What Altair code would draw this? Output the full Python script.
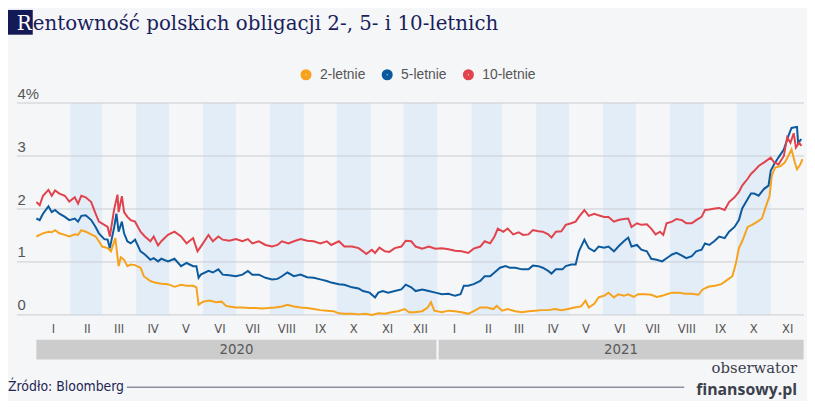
import altair as alt
import pandas as pd

# ---------------- texts ----------------
TITLE_FIRST = "R"
TITLE_REST = "entowność polskich obligacji 2-, 5- i 10-letnich"
SOURCE = "Źródło: Bloomberg"
LOGO_TOP = "obserwator"
LOGO_BOTTOM = "finansowy.pl"

# ---------------- categories / styling lists ----------------
SERIES = ["2-letnie", "5-letnie", "10-letnie"]
COLORS = ["#f6a21d", "#0c5a9e", "#e1434c"]
Y_TICKS = [0, 1, 2, 3, 4]
ROMAN = ["I", "II", "III", "IV", "V", "VI", "VII", "VIII", "IX", "X", "XI", "XII"]
TICK_MONTHS = [(2020, m) for m in range(1, 13)] + [(2021, m) for m in range(1, 12)]
BAND_MONTHS = ["2020-02", "2020-04", "2020-06", "2020-08", "2020-10", "2020-12",
               "2021-02", "2021-04", "2021-06", "2021-08", "2021-10"]
YEARS = ["2020", "2021"]
YEAR_START = ["2020-01-01", "2021-01-02"]
YEAR_END = ["2020-12-31", "2021-12-01"]

NARROW = "DejaVu Sans Condensed, Roboto, Liberation Sans, sans-serif"

# ---------------- data (day = days since 2020-01-01, value in %) ----------------
Y10_DAYS = [0, 3, 6, 11, 14, 17, 21, 26, 30, 35, 38, 41, 45, 50, 54, 57, 62, 65, 67, 71,
            74, 75, 78, 80, 83, 86, 90, 95, 99, 104, 107, 111, 114, 120, 126, 132, 137, 143, 147, 150,
            157, 161, 166,
            170, 176, 182, 188, 193, 197, 203, 209, 215, 220, 224, 230, 235, 241, 247, 253, 259, 265, 269, 276,
            281, 288, 294, 298, 301, 306, 309, 313, 318, 322, 327, 333, 337, 342,
            346, 352, 358, 364, 370, 376, 382, 388, 394, 399, 405, 409, 414, 418, 421, 426, 430, 435, 440, 444,
            449, 453, 458, 462, 467, 470, 474, 479, 483, 488, 492, 495, 500, 504, 509, 513, 518,
            522, 527, 531, 536, 540, 543, 548, 552, 557, 561, 565, 569, 572, 575, 580, 584, 589, 593, 598, 602,
            607, 610, 614, 619, 623, 628, 632, 637, 641, 644, 649, 652, 655, 659, 664, 670, 673, 677, 682, 685,
            688, 691, 693, 696, 698]
Y10_VALS = [2.13, 2.07, 2.25, 2.36, 2.25, 2.35, 2.29, 2.25, 2.14, 2.22, 2.10, 2.25, 2.22, 2.13, 1.91, 1.76, 1.70, 1.66, 1.48, 2.00,
            2.27, 1.94, 2.24, 1.94, 1.85, 1.79, 1.76, 1.57, 1.48, 1.39, 1.48, 1.31, 1.39, 1.51, 1.57, 1.48, 1.35, 1.45, 1.20, 1.29,
            1.51, 1.39, 1.48,
            1.42, 1.40, 1.43, 1.39, 1.43, 1.35, 1.39, 1.32, 1.29, 1.32, 1.39, 1.35, 1.39, 1.43, 1.40, 1.39, 1.35, 1.39, 1.32, 1.39,
            1.29, 1.29, 1.26, 1.20, 1.15, 1.23, 1.17, 1.27, 1.20, 1.19, 1.26, 1.29, 1.40, 1.39,
            1.29, 1.25, 1.29, 1.25, 1.26, 1.24, 1.21, 1.20, 1.17, 1.25, 1.29, 1.39, 1.35, 1.48, 1.63, 1.57, 1.63, 1.52, 1.56, 1.51,
            1.52, 1.60, 1.58, 1.57, 1.52, 1.46, 1.57, 1.58, 1.70, 1.73, 1.76, 1.85, 1.98, 1.87, 1.91, 1.88, 1.85,
            1.85, 1.76, 1.79, 1.81, 1.82, 1.66, 1.73, 1.70, 1.71, 1.63, 1.52, 1.57, 1.51, 1.73, 1.76, 1.81, 1.79, 1.73, 1.73, 1.79,
            1.85, 1.98, 1.99, 2.01, 2.02, 1.98, 2.13, 2.22, 2.32, 2.44, 2.57, 2.66, 2.72, 2.81, 2.88, 2.97, 2.88, 2.84, 3.00, 3.35,
            3.25, 3.43, 3.16, 3.25, 3.19]

Y5_DAYS = [0, 3, 6, 11, 14, 17, 21, 26, 30, 35, 38, 41, 45, 50, 54, 57, 62, 65, 67, 71,
           73, 75, 78, 80, 83, 86, 90, 95, 99, 104, 107, 111, 114, 120, 126, 132, 137, 143, 146, 148,
           150, 157, 161, 166,
           170, 176, 182, 188, 193, 197, 203, 209, 215, 220, 224, 229, 235, 241, 247, 253, 259, 265, 269, 276,
           281, 288, 294, 298, 304, 309, 312, 316, 321, 327, 333, 337, 342,
           346, 352, 358, 364, 370, 376, 382, 387, 390, 394, 399, 405, 409, 414, 418, 423, 428, 432, 437, 443,
           449, 453, 458, 462, 467, 470, 474, 480, 483, 488, 492, 495, 500, 504, 509, 513, 518,
           522, 527, 531, 536, 540, 543, 548, 552, 557, 561, 566, 571, 575, 580, 584, 589, 593, 598, 602, 607,
           610, 614, 619, 623, 628, 632, 637, 641, 644, 649, 652, 655, 659, 664, 668, 670, 673, 677, 682, 686,
           689, 694, 695, 698]
Y5_VALS = [1.82, 1.79, 1.91, 2.05, 1.94, 1.98, 1.91, 1.85, 1.79, 1.82, 1.76, 1.87, 1.88, 1.79, 1.66, 1.54, 1.43, 1.42, 1.26, 1.66,
           1.91, 1.57, 1.76, 1.54, 1.39, 1.35, 1.42, 1.20, 1.14, 1.04, 1.07, 1.01, 1.06, 1.01, 1.06, 0.92, 0.98, 0.92, 0.92, 0.70,
           0.76, 0.83, 0.80, 0.86,
           0.76, 0.75, 0.73, 0.76, 0.83, 0.76, 0.76, 0.70, 0.67, 0.68, 0.73, 0.80, 0.73, 0.76, 0.71, 0.70, 0.67, 0.64, 0.61, 0.58,
           0.57, 0.52, 0.50, 0.45, 0.42, 0.33, 0.42, 0.45, 0.42, 0.45, 0.48, 0.57, 0.52,
           0.45, 0.48, 0.45, 0.42, 0.39, 0.40, 0.36, 0.39, 0.55, 0.55, 0.58, 0.64, 0.73, 0.73, 0.80, 0.89, 0.92, 0.89, 0.89, 0.86,
           0.86, 0.93, 0.92, 0.89, 0.83, 0.78, 0.86, 0.86, 0.92, 0.95, 0.95, 1.20, 1.42, 1.26, 1.20, 1.29, 1.27,
           1.29, 1.20, 1.29, 1.39, 1.46, 1.29, 1.32, 1.23, 1.20, 1.06, 1.04, 1.01, 1.07, 1.14, 1.17, 1.12, 1.07, 1.11, 1.20, 1.23,
           1.35, 1.32, 1.40, 1.48, 1.45, 1.57, 1.66, 1.79, 2.01, 2.19, 2.29, 2.29, 2.25, 2.38, 2.44, 2.72, 2.84, 2.97, 3.12, 3.37,
           3.53, 3.55, 3.25, 3.32]

Y2_DAYS = [0, 3, 6, 11, 14, 17, 21, 26, 30, 35, 38, 41, 45, 50, 54, 57, 60, 65, 68, 72,
           75, 77, 80, 83, 86, 90, 95, 98, 104, 108, 114, 120, 126, 132, 137, 143, 146, 148, 152, 158,
           164, 169, 173,
           176, 182, 188, 194, 200, 206, 212, 218, 224, 229, 235, 241, 247, 253, 259, 265, 271, 276, 281, 288,
           294, 300, 306, 312, 318, 324, 330, 336, 340, 345,
           352, 357, 360, 363, 370, 376, 382, 388, 394, 400, 405, 411, 417, 420, 425, 430, 437, 443, 449, 455,
           461, 467, 473, 479, 485, 491, 497, 501, 504, 509, 513, 518,
           522, 527, 531, 536, 540, 545, 549, 556, 561, 566, 571, 575, 580, 586, 592, 598, 604, 608, 613, 619,
           625, 631, 635, 638, 641, 644, 649, 653, 658, 662, 665, 669, 671, 674, 679, 683, 686, 689, 692, 694,
           697, 699]
Y2_VALS = [1.48, 1.51, 1.54, 1.57, 1.56, 1.60, 1.54, 1.51, 1.48, 1.52, 1.51, 1.60, 1.57, 1.52, 1.48, 1.39, 1.29, 1.26, 1.20, 1.45,
           0.92, 1.09, 1.04, 0.92, 0.95, 0.94, 0.89, 0.73, 0.64, 0.61, 0.59, 0.58, 0.53, 0.57, 0.55, 0.55, 0.52, 0.19, 0.25, 0.27,
           0.24, 0.25, 0.17,
           0.16, 0.14, 0.14, 0.13, 0.13, 0.12, 0.13, 0.14, 0.16, 0.19, 0.16, 0.14, 0.13, 0.11, 0.09, 0.08, 0.07, 0.03, 0.02, 0.02,
           0.01, 0.02, 0.00, 0.03, 0.02, 0.05, 0.07, 0.11, 0.05, 0.05,
           0.07, 0.14, 0.24, 0.08, 0.05, 0.08, 0.07, 0.05, 0.02, 0.08, 0.14, 0.14, 0.11, 0.17, 0.08, 0.11, 0.07, 0.05, 0.07, 0.08,
           0.09, 0.09, 0.11, 0.09, 0.11, 0.14, 0.16, 0.27, 0.14, 0.21, 0.33, 0.36,
           0.42, 0.33, 0.39, 0.36, 0.39, 0.34, 0.39, 0.39, 0.38, 0.34, 0.36, 0.39, 0.42, 0.42, 0.40, 0.40, 0.38, 0.48, 0.53, 0.55,
           0.58, 0.67, 0.73, 0.95, 1.26, 1.39, 1.66, 1.70, 1.76, 1.82, 2.01, 2.25, 2.63, 2.78, 2.81, 2.88, 3.00, 3.12, 2.88, 2.75,
           2.84, 2.94]

# ---------------- build tables ----------------
BASE = pd.Timestamp("2020-01-01")


def iso(ts):
    return pd.Timestamp(ts).strftime("%Y-%m-%dT%H:%M:%S")


rows = []
for name, days, vals in zip(SERIES, [Y2_DAYS, Y5_DAYS, Y10_DAYS], [Y2_VALS, Y5_VALS, Y10_VALS]):
    for d, v in zip(days, vals):
        rows.append({"series": name, "date": iso(BASE + pd.Timedelta(days=d)), "value": v})
lines_df = pd.DataFrame(rows)

bands_df = pd.DataFrame({
    "start": [iso(pd.Period(m, freq="M").start_time) for m in BAND_MONTHS],
    "end": [iso((pd.Period(m, freq="M") + 1).start_time) for m in BAND_MONTHS],
    "top": [max(Y_TICKS)] * len(BAND_MONTHS),
    "bottom": [min(Y_TICKS)] * len(BAND_MONTHS),
})
grid_df = pd.DataFrame({"v": Y_TICKS})
years_df = pd.DataFrame({
    "year": YEARS,
    "start": [iso(s) for s in YEAR_START],
    "end": [iso(e) for e in YEAR_END],
    "mid": [iso(pd.Timestamp(s) + (pd.Timestamp(e) - pd.Timestamp(s)) / 2) for s, e in zip(YEAR_START, YEAR_END)],
})

# ---------------- scales / axes ----------------
W, H = 795, 214
x_scale = alt.Scale(domain=[alt.DateTime(year=2019, month=12, date=14, hours=5),
                            alt.DateTime(year=2021, month=12, date=1, hours=10)])
y_scale = alt.Scale(domain=[min(Y_TICKS), max(Y_TICKS)], nice=False)

roman_expr = "[" + ",".join("'%s'" % r for r in ROMAN) + "][month(datum.value)]"
x_axis = alt.Axis(values=[alt.DateTime(year=y, month=m, date=16) for y, m in TICK_MONTHS],
                  labelExpr=roman_expr, domain=False, ticks=False, grid=False,
                  labelPadding=8, labelFont=NARROW, labelFontSize=13,
                  labelColor="#555555", title=None, labelOverlap=False, labelFlush=False,
                  labelBound=False)
y_axis = alt.Axis(values=Y_TICKS,
                  labelExpr="datum.value == %d ? datum.label + '%%' : datum.label" % max(Y_TICKS),
                  domain=False, ticks=False, grid=False, labelAlign="left",
                  labelBaseline="alphabetic", labelPadding=0, labelOffset=-5,
                  labelFont="Liberation Sans", labelFontSize=15, labelColor="#555555", title=None)


def X(field):
    return alt.X(field, type="temporal", scale=x_scale, axis=x_axis)


def Y(field):
    return alt.Y(field, type="quantitative", scale=y_scale, axis=y_axis)


bands = alt.Chart(bands_df).mark_rect(color="#e3edf7").encode(
    x=X("start"), x2="end:T", y=Y("top"), y2="bottom:Q")

grid = alt.Chart(grid_df).mark_rule(color="#c9ccd1", strokeWidth=1).encode(y=Y("v"))

lines = alt.Chart(lines_df).mark_line(strokeWidth=2, interpolate="linear").encode(
    x=X("date"), y=Y("value"),
    color=alt.Color("series:N", sort=SERIES,
                    scale=alt.Scale(domain=SERIES, range=COLORS),
                    legend=alt.Legend(orient="none", legendX=285, legendY=-36,
                                      direction="horizontal", title=None,
                                      symbolType="circle", symbolSize=38,
                                      symbolStrokeWidth=5, labelFont="Liberation Sans",
                                      labelFontSize=14, labelColor="#555555",
                                      columnPadding=8, labelOffset=7, padding=0)),
    order=alt.Order("date:T"))

year_rects = alt.Chart(years_df).mark_rect(color="#cccccc").encode(
    x=X("start"), x2="end:T", y=alt.value(H + 25), y2=alt.value(H + 45))
year_text = alt.Chart(years_df).mark_text(font=NARROW, fontSize=15,
                                          color="#595959", baseline="middle").encode(
    x=X("mid"), y=alt.value(H + 35), text="year:N")

one = pd.DataFrame({"t": [TITLE_FIRST]})
title_box = alt.Chart(one).mark_rect(color="#141a56").encode(
    x=alt.value(-9), x2=alt.value(16), y=alt.value(-94), y2=alt.value(-69))
title_r = alt.Chart(one).mark_text(font="DejaVu Serif", fontSize=20, color="white",
                                   align="right", baseline="alphabetic").encode(
    x=alt.value(15), y=alt.value(-74), text="t:N")
title_rest = alt.Chart(pd.DataFrame({"t": [TITLE_REST]})).mark_text(
    font="DejaVu Serif", fontSize=20, color="#1b1f5c", align="left", baseline="alphabetic").encode(
    x=alt.value(16), y=alt.value(-74), text="t:N")

source = alt.Chart(pd.DataFrame({"t": [SOURCE]})).mark_text(
    font=NARROW, fontSize=14, color="#1f2654", align="left", baseline="middle").encode(
    x=alt.value(-9), y=alt.value(H + 73), text="t:N")
source_line = alt.Chart(one).mark_rule(color="#8b90a0", strokeWidth=1.5).encode(
    x=alt.value(111), x2=alt.value(674), y=alt.value(H + 73))
logo_top = alt.Chart(pd.DataFrame({"t": [LOGO_TOP]})).mark_text(
    font="DejaVu Serif", fontSize=15, color="#3b404c", align="right", baseline="middle").encode(
    x=alt.value(788), y=alt.value(H + 54), text="t:N")
logo_bottom = alt.Chart(pd.DataFrame({"t": [LOGO_BOTTOM]})).mark_text(
    font="Open Sans", fontSize=16, fontWeight="bold", color="#3b404c", align="right",
    baseline="middle").encode(
    x=alt.value(788), y=alt.value(H + 76), text="t:N")

chart = alt.layer(
    bands, grid, lines, year_rects, year_text, title_box, title_r, title_rest,
    source, source_line, logo_top, logo_bottom
).properties(
    width=W, height=H,
    padding={"left": 9, "top": 94, "right": 3, "bottom": 85},
    autosize=alt.AutoSizeParams(type="none"),
).configure(background="#f5f6f8").configure_view(stroke=None)

chart.save("out.html", embed_options={"renderer": "svg", "actions": False})
